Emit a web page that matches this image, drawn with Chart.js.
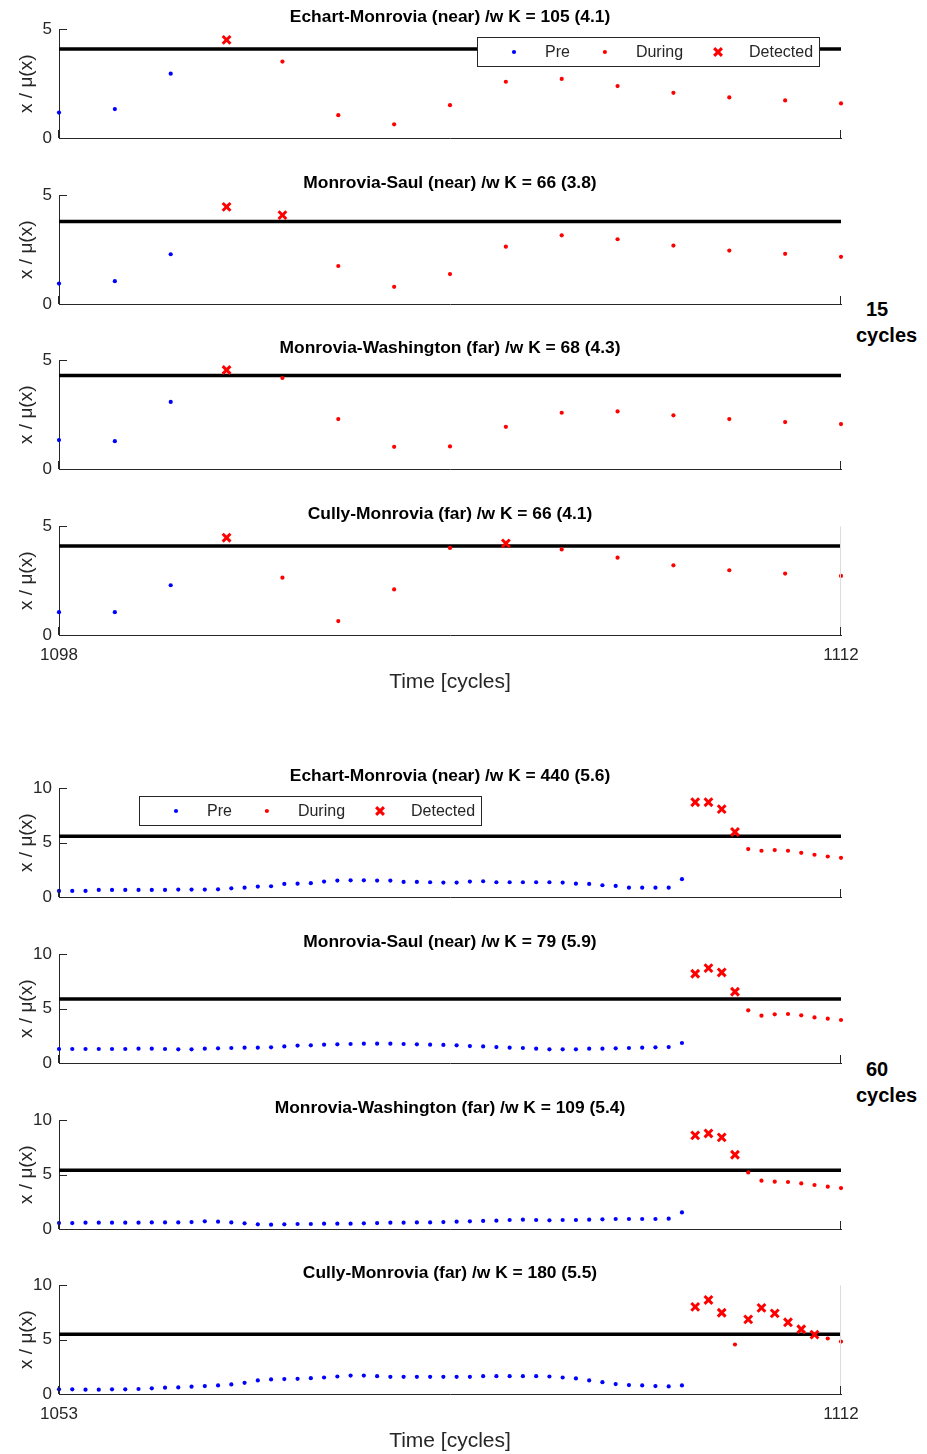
<!DOCTYPE html>
<html>
<head>
<meta charset="utf-8">
<script src="https://cdn.jsdelivr.net/npm/chart.js@4.4.1/dist/chart.umd.min.js"></script>
<style>
  html, body { margin: 0; padding: 0; background: #fff; }
  #page { position: relative; width: 927px; height: 1454px; background: #fff; overflow: hidden; }
  #page canvas { position: absolute; left: 0; }
  .side { position: absolute; font: bold 20px "Liberation Sans", Arial, sans-serif; line-height: 23px; color: #000; }
</style>
</head>
<body>
<div id="page">
  <div class="side" style="left:866px; top:298px;">15</div>
  <div class="side" style="left:856px; top:324px;">cycles</div>
  <div class="side" style="left:866px; top:1058px;">60</div>
  <div class="side" style="left:856px; top:1084px;">cycles</div>
</div>
<script>
// ---- data ----
const onsetCycle = 1101;

const cycles15 = [1098, 1099, 1100, 1101, 1102, 1103, 1104, 1105, 1106, 1107, 1108, 1109, 1110, 1111, 1112];
const cycles60 = [
  1053, 1054, 1055, 1056, 1057, 1058, 1059, 1060, 1061, 1062,
  1063, 1064, 1065, 1066, 1067, 1068, 1069, 1070, 1071, 1072,
  1073, 1074, 1075, 1076, 1077, 1078, 1079, 1080, 1081, 1082,
  1083, 1084, 1085, 1086, 1087, 1088, 1089, 1090, 1091, 1092,
  1093, 1094, 1095, 1096, 1097, 1098, 1099, 1100, 1101, 1102,
  1103, 1104, 1105, 1106, 1107, 1108, 1109, 1110, 1111, 1112
];

const titles15 = [
  'Echart-Monrovia (near) /w K = 105 (4.1)',
  'Monrovia-Saul (near) /w K = 66 (3.8)',
  'Monrovia-Washington (far) /w K = 68 (4.3)',
  'Cully-Monrovia (far) /w K = 66 (4.1)'
];
const titles60 = [
  'Echart-Monrovia (near) /w K = 440 (5.6)',
  'Monrovia-Saul (near) /w K = 79 (5.9)',
  'Monrovia-Washington (far) /w K = 109 (5.4)',
  'Cully-Monrovia (far) /w K = 180 (5.5)'
];
const thresholds15 = [4.1, 3.8, 4.3, 4.1];
const thresholds60 = [5.6, 5.9, 5.4, 5.5];

const yTicks15 = [0, 5];
const yTicks60 = [0, 5, 10];

// 15-cycle window
const echart15 = [1.17, 1.33, 2.96, 4.52, 3.52, 1.05, 0.63, 1.51, 2.59, 2.72, 2.39, 2.08, 1.87, 1.73, 1.59];
const saul15   = [0.94, 1.05, 2.29, 4.47, 4.09, 1.75, 0.79, 1.38, 2.64, 3.16, 2.98, 2.69, 2.46, 2.31, 2.17];
const wash15   = [1.33, 1.28, 3.09, 4.56, 4.19, 2.30, 1.02, 1.04, 1.94, 2.59, 2.65, 2.47, 2.30, 2.16, 2.07];
const cully15  = [1.05, 1.05, 2.29, 4.48, 2.64, 0.64, 2.10, 4.01, 4.22, 3.94, 3.56, 3.21, 2.98, 2.83, 2.72];
const echart15Detected = [1101];
const saul15Detected   = [1101, 1102];
const wash15Detected   = [1101];
const cully15Detected  = [1101, 1106];

// 60-cycle window
const echart60 = [
  0.56, 0.56, 0.56, 0.65, 0.65, 0.65, 0.65, 0.65, 0.65, 0.68,
  0.68, 0.68, 0.71, 0.80, 0.86, 0.96, 0.99, 1.20, 1.23, 1.27,
  1.42, 1.51, 1.54, 1.54, 1.51, 1.51, 1.39, 1.39, 1.36, 1.33,
  1.33, 1.42, 1.45, 1.36, 1.36, 1.36, 1.36, 1.36, 1.33, 1.23,
  1.20, 1.08, 1.02, 0.86, 0.86, 0.86, 0.86, 1.64, 8.73, 8.73,
  8.09, 5.99, 4.41, 4.26, 4.32, 4.26, 4.07, 3.89, 3.73, 3.61
];
const saul60 = [
  1.29, 1.29, 1.29, 1.29, 1.29, 1.29, 1.32, 1.32, 1.29, 1.26,
  1.26, 1.32, 1.35, 1.38, 1.41, 1.41, 1.44, 1.53, 1.60, 1.63,
  1.69, 1.72, 1.75, 1.78, 1.78, 1.78, 1.75, 1.72, 1.69, 1.66,
  1.63, 1.56, 1.53, 1.47, 1.41, 1.38, 1.32, 1.26, 1.26, 1.26,
  1.32, 1.32, 1.35, 1.38, 1.41, 1.44, 1.47, 1.84, 8.22, 8.74,
  8.34, 6.56, 4.85, 4.36, 4.48, 4.51, 4.39, 4.20, 4.08, 3.96
];
const wash60 = [
  0.55, 0.55, 0.58, 0.58, 0.58, 0.58, 0.58, 0.61, 0.61, 0.61,
  0.64, 0.71, 0.67, 0.61, 0.52, 0.43, 0.40, 0.43, 0.46, 0.46,
  0.49, 0.49, 0.49, 0.52, 0.55, 0.58, 0.58, 0.61, 0.61, 0.64,
  0.67, 0.71, 0.74, 0.77, 0.83, 0.86, 0.83, 0.80, 0.83, 0.83,
  0.86, 0.89, 0.92, 0.92, 0.92, 0.92, 0.95, 1.53, 8.62, 8.80,
  8.44, 6.84, 5.21, 4.45, 4.36, 4.33, 4.20, 4.05, 3.90, 3.77
];
const cully60 = [
  0.43, 0.43, 0.40, 0.40, 0.43, 0.43, 0.46, 0.52, 0.58, 0.61,
  0.67, 0.73, 0.79, 0.88, 1.03, 1.25, 1.34, 1.37, 1.40, 1.46,
  1.52, 1.61, 1.70, 1.70, 1.64, 1.58, 1.58, 1.58, 1.58, 1.58,
  1.58, 1.58, 1.64, 1.64, 1.64, 1.64, 1.64, 1.61, 1.52, 1.43,
  1.25, 1.09, 0.91, 0.82, 0.79, 0.73, 0.70, 0.79, 8.02, 8.66,
  7.48, 4.56, 6.87, 7.93, 7.42, 6.60, 5.96, 5.47, 5.11, 4.83
];
const echart60Detected = [1101, 1102, 1103, 1104];
const saul60Detected   = [1101, 1102, 1103, 1104];
const wash60Detected   = [1101, 1102, 1103, 1104];
const cully60Detected  = [1101, 1102, 1103, 1105, 1106, 1107, 1108, 1109, 1110];

// ---- layout ----
const FONT = '"Liberation Sans", Arial, Helvetica, sans-serif';
const AXIS = '#262626';
const plotTops = [29, 195, 360, 526, 788, 954, 1120, 1285];
const plotH = 109;

const panels = [
  { cycles: cycles15, values: echart15, detected: echart15Detected, threshold: thresholds15[0], title: titles15[0], yTicks: yTicks15, legend: { anchor: 'right', offset: 22 } },
  { cycles: cycles15, values: saul15,   detected: saul15Detected,   threshold: thresholds15[1], title: titles15[1], yTicks: yTicks15 },
  { cycles: cycles15, values: wash15,   detected: wash15Detected,   threshold: thresholds15[2], title: titles15[2], yTicks: yTicks15 },
  { cycles: cycles15, values: cully15,  detected: cully15Detected,  threshold: thresholds15[3], title: titles15[3], yTicks: yTicks15, last: true },
  { cycles: cycles60, values: echart60, detected: echart60Detected, threshold: thresholds60[0], title: titles60[0], yTicks: yTicks60, legend: { anchor: 'left', offset: 80 } },
  { cycles: cycles60, values: saul60,   detected: saul60Detected,   threshold: thresholds60[1], title: titles60[1], yTicks: yTicks60 },
  { cycles: cycles60, values: wash60,   detected: wash60Detected,   threshold: thresholds60[2], title: titles60[2], yTicks: yTicks60 },
  { cycles: cycles60, values: cully60,  detected: cully60Detected,  threshold: thresholds60[3], title: titles60[3], yTicks: yTicks60, last: true }
];

function splitSeries(cycles, values, detected) {
  const pre = [], during = [], det = [];
  cycles.forEach((c, i) => {
    const p = { x: c, y: values[i] };
    if (c < onsetCycle) pre.push(p);
    else if (detected.includes(c)) det.push(p);
    else during.push(p);
  });
  return { pre, during, det };
}

function drawMarker(ctx, ds, x, y) {
  const color = ds.pointBorderColor || ds.backgroundColor;
  ctx.save();
  ctx.fillStyle = color;
  ctx.strokeStyle = color;
  ctx.lineWidth = ds.pointBorderWidth;
  if (Chart.helpers && Chart.helpers.drawPoint) {
    Chart.helpers.drawPoint(ctx, { pointStyle: ds.pointStyle, radius: ds.pointRadius, borderWidth: ds.pointBorderWidth, rotation: 0 }, x, y);
  } else {
    ctx.beginPath();
    ctx.arc(x, y, ds.pointRadius, 0, Math.PI * 2);
    ctx.fill();
  }
  ctx.restore();
}

// inward tick marks + faint right edge
const axisDecor = {
  id: 'axisDecor',
  afterDatasetsDraw(chart, args, opts) {
    const { ctx, chartArea: a, scales: { x, y } } = chart;
    ctx.save();
    if (opts.rightEdge) {
      ctx.strokeStyle = '#dcdcdc';
      ctx.lineWidth = 1;
      ctx.beginPath();
      ctx.moveTo(Math.round(a.right) - 0.5, a.top);
      ctx.lineTo(Math.round(a.right) - 0.5, a.bottom);
      ctx.stroke();
    }
    ctx.strokeStyle = AXIS;
    ctx.lineWidth = 1;
    ctx.beginPath();
    y.ticks.forEach(t => {
      const py = Math.round(y.getPixelForValue(t.value)) + 0.5;
      ctx.moveTo(a.left, py);
      ctx.lineTo(a.left + 8, py);
    });
    x.ticks.forEach(t => {
      const px = Math.round(x.getPixelForValue(t.value)) - 0.5;
      ctx.moveTo(px, a.bottom);
      ctx.lineTo(px, a.bottom - 8);
    });
    ctx.stroke();
    ctx.restore();
  }
};

// boxed horizontal legend inside the axes
const boxLegend = {
  id: 'boxLegend',
  afterDatasetsDraw(chart, args, opts) {
    if (!opts.anchor) return;
    const { ctx, chartArea: a } = chart;
    const items = chart.data.datasets.filter(d => d.inLegend);
    ctx.save();
    ctx.font = '16px ' + FONT;
    let w = 37;
    items.forEach((d, i) => {
      w += 31 + ctx.measureText(d.label).width + (i < items.length - 1 ? 35 : 6);
    });
    const h = 29;
    const left = Math.round(opts.anchor === 'right' ? a.right - opts.offset - w : a.left + opts.offset);
    const top = Math.round(a.top + 8);
    ctx.fillStyle = '#fff';
    ctx.fillRect(left, top, w, h);
    ctx.strokeStyle = AXIS;
    ctx.lineWidth = 1;
    ctx.strokeRect(left + 0.5, top + 0.5, Math.round(w), h);
    let xx = left + 37;
    const cy = top + h / 2 + 0.5;
    items.forEach(d => {
      drawMarker(ctx, d, xx, cy);
      ctx.fillStyle = AXIS;
      ctx.textBaseline = 'middle';
      ctx.textAlign = 'left';
      ctx.fillText(d.label, xx + 31, cy + 1);
      xx += 31 + ctx.measureText(d.label).width + 35;
    });
    ctx.restore();
  }
};

const page = document.getElementById('page');

panels.forEach((p, i) => {
  const xH = p.last ? 62 : 22;
  const canvas = document.createElement('canvas');
  canvas.width = 927;
  canvas.height = 29 + plotH + xH;
  canvas.style.top = (plotTops[i] - 29) + 'px';
  page.appendChild(canvas);

  const s = splitSeries(p.cycles, p.values, p.detected);
  const xMin = p.cycles[0];
  const xMax = p.cycles[p.cycles.length - 1];
  const yMax = p.yTicks[p.yTicks.length - 1];

  new Chart(canvas, {
    type: 'scatter',
    data: {
      datasets: [
        { label: 'Pre', data: s.pre, inLegend: true, pointStyle: 'circle', pointRadius: 2.1, pointBorderWidth: 0,
          backgroundColor: '#0000ff', borderColor: '#0000ff', clip: false },
        { label: 'During', data: s.during, inLegend: true, pointStyle: 'circle', pointRadius: 2.1, pointBorderWidth: 0,
          backgroundColor: '#ff0000', borderColor: '#ff0000', clip: false },
        { label: 'Detected', data: s.det, inLegend: true, pointStyle: 'crossRot', pointRadius: 5.5, pointBorderWidth: 3,
          backgroundColor: '#ff0000', borderColor: '#ff0000', pointBorderColor: '#ff0000', clip: false },
        { label: 'K', data: [{ x: xMin, y: p.threshold }, { x: xMax, y: p.threshold }], showLine: true,
          borderColor: '#000', backgroundColor: '#000', borderWidth: 3.5, pointRadius: 0, clip: false }
      ]
    },
    options: {
      responsive: false,
      animation: false,
      events: [],
      layout: { padding: { left: 0, right: 86, top: 0, bottom: 0 } },
      scales: {
        x: {
          type: 'linear',
          min: xMin,
          max: xMax,
          afterBuildTicks: sc => { sc.ticks = [{ value: xMin }, { value: xMax }]; },
          afterFit: sc => { sc.height = xH; },
          grid: { display: false, drawTicks: false },
          border: { display: true, color: AXIS, width: 1 },
          ticks: { display: !!p.last, padding: 10, color: AXIS, maxRotation: 0, font: { size: 17, family: FONT },
                   callback: v => String(v) },
          title: { display: !!p.last, text: 'Time [cycles]', color: AXIS, font: { size: 21, family: FONT }, padding: { top: 0, bottom: 2.4 } }
        },
        y: {
          min: 0,
          max: yMax,
          afterBuildTicks: sc => { sc.ticks = p.yTicks.map(v => ({ value: v })); },
          afterFit: sc => { sc.width = 59; },
          grid: { display: false, drawTicks: false },
          border: { display: true, color: AXIS, width: 1 },
          ticks: { padding: 7, color: AXIS, font: { size: 17, family: FONT }, callback: v => String(v) },
          title: { display: true, text: 'x / μ(x)', color: AXIS, font: { size: 19, family: FONT }, padding: { top: 15.6, bottom: 0 } }
        }
      },
      plugins: {
        legend: { display: false },
        tooltip: { enabled: false },
        title: {
          display: true,
          text: p.title,
          fullSize: false,
          color: '#000',
          font: { size: 17.4, weight: 'bold', family: FONT, lineHeight: 1 },
          padding: { top: 8.5, bottom: 3.5 }
        },
        axisDecor: { rightEdge: !!p.last },
        boxLegend: p.legend || {}
      }
    },
    plugins: [axisDecor, boxLegend]
  });
});
</script>
</body>
</html>
